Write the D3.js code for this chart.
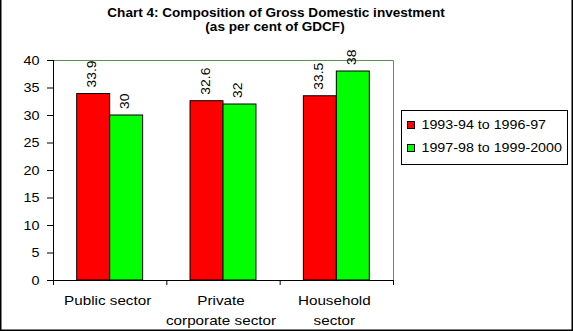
<!DOCTYPE html>
<html><head><meta charset="utf-8">
<script src="https://cdn.jsdelivr.net/npm/d3@7"></script>
<style>body{margin:0;background:#fff}svg{display:block;font-family:"Liberation Sans",Arial,sans-serif}</style>
</head><body>
<script>
const categories = [["Public sector"], ["Private", "corporate sector"], ["Household", "sector"]];
const seriesNames = ["1993-94 to 1996-97", "1997-98 to 1999-2000"];
const series1 = [33.9, 32.6, 33.5];
const series2 = [30, 32, 38];
const yTicks = [0, 5, 10, 15, 20, 25, 30, 35, 40];
const colors = ["#ff0000", "#00ff00"];

const W = 573, H = 331;
const svg = d3.select("body").append("svg").attr("width", W).attr("height", H);
svg.append("rect").attr("width", W).attr("height", H).attr("fill", "#fff");
svg.append("path").attr("d", `M0.75,0 V330.25 H572.25 V0`).attr("fill", "none").attr("stroke", "#000").attr("stroke-width", 1.5);

// stretched text helper
function stext(parent, str, x0, y0, opts) {
  const o = Object.assign({size: 12, sx: 1.2, anchor: "start", rot: 0, weight: "normal"}, opts || {});
  return parent.append("text")
    .attr("transform", `translate(${x0},${y0}) rotate(${o.rot}) scale(${o.sx},1)`)
    .attr("text-anchor", o.anchor).attr("font-size", o.size).attr("font-weight", o.weight)
    .attr("fill", "#000").text(str);
}

const L = 53, R = 393, T = 60, B = 280;
const x = d3.scaleBand().domain(d3.range(categories.length)).range([L, R]);
const inner = d3.scaleBand().domain([0, 1]).range([23.7, x.bandwidth() - 23.7]);
const y = d3.scaleLinear().domain([0, 40]).range([B, T]);

svg.append("path").attr("d", `M${L},${T + 0.5} H${R + 0.5} V${B}`).attr("fill", "none").attr("stroke", "#5f8f50").attr("stroke-width", 1);

const data = [series1, series2];
data.forEach((s, si) => {
  const g = svg.append("g");
  g.selectAll("rect").data(s).join("rect")
    .attr("x", (d, i) => x(i) + inner(si))
    .attr("y", d => y(d))
    .attr("width", inner.bandwidth())
    .attr("height", d => B - y(d))
    .attr("fill", colors[si]).attr("stroke", "#000").attr("stroke-width", 1);
  s.forEach((d, i) => {
    stext(g, d, x(i) + inner(si) + inner.bandwidth() / 2 + 3, y(d) - 6, {rot: -90, sx: 1.16});
  });
});

// y axis
const ya = svg.append("g");
ya.append("line").attr("x1", L + 0.5).attr("x2", L + 0.5).attr("y1", T).attr("y2", B).attr("stroke", "#000");
yTicks.forEach(t => {
  ya.append("line").attr("x1", L - 6).attr("x2", L).attr("y1", y(t) + 0.5).attr("y2", y(t) + 0.5).attr("stroke", "#000");
  stext(ya, t, 39.5, y(t) + 4.5, {anchor: "end", sx: 1.2});
});

// x axis
const xb = svg.append("g").attr("transform", `translate(0,${B})`);
xb.append("line").attr("x1", L - 6).attr("x2", R).attr("y1", 0.5).attr("y2", 0.5).attr("stroke", "#000");
const bounds = d3.range(categories.length + 1).map(i => i < categories.length ? x(i) : R);
xb.selectAll("line.t").data(bounds).join("line").attr("class", "t")
  .attr("x1", d => d + 0.5).attr("x2", d => d + 0.5).attr("y1", 0).attr("y2", 5).attr("stroke", "#000");
categories.forEach((lines, i) => {
  lines.forEach((ln, j) => {
    stext(xb, ln, x(i) + x.bandwidth() / 2 - 2, 24.5 + j * 20, {anchor: "middle", sx: 1.27});
  });
});

// title
stext(svg, "Chart 4: Composition of Gross Domestic investment", 276, 16.5, {anchor: "middle", weight: "bold", sx: 1.13});
stext(svg, "(as per cent of GDCF)", 275, 31, {anchor: "middle", weight: "bold", sx: 1.13});

// legend
const lg = svg.append("g");
lg.append("rect").attr("x", 401.5).attr("y", 110.5).attr("width", 166).attr("height", 54).attr("fill", "#fff").attr("stroke", "#000");
seriesNames.forEach((n, i) => {
  lg.append("rect").attr("x", 407.5).attr("y", 121.5 + i * 23).attr("width", 7).attr("height", 7).attr("fill", colors[i]).attr("stroke", "#000");
  stext(lg, n, 421.5, 129 + i * 23, {sx: 1.19});
});
</script>
</body></html>
